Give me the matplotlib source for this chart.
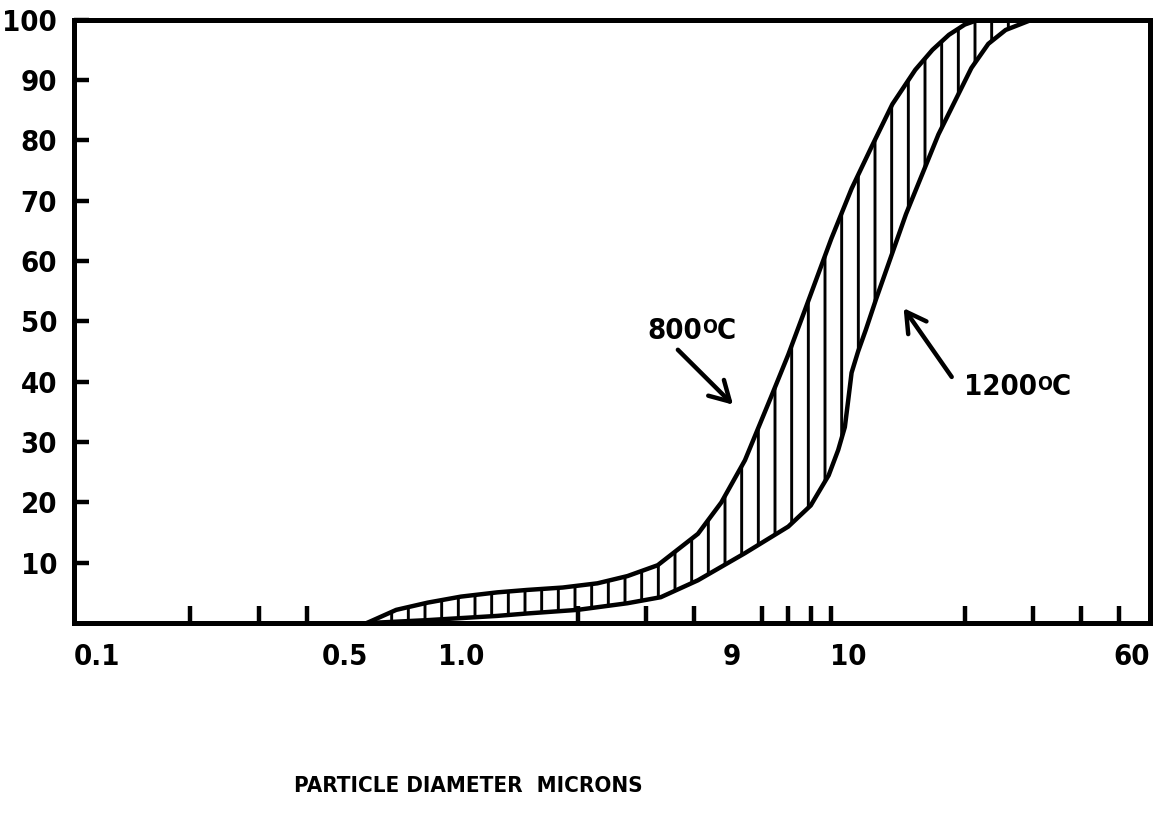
import matplotlib
matplotlib.use("Agg")
import matplotlib.pyplot as plt
from matplotlib import font_manager as fm
from matplotlib.ticker import FixedLocator, NullFormatter
import numpy as np

# particle diameter (microns) vs cumulative percent
d800 = [0.57, 0.68, 0.82, 1.0, 1.24, 1.48, 1.83, 2.25, 2.69, 3.22, 4.09,
        4.7, 5.41, 6.32, 7.0, 7.74, 9.04, 10.2, 11.5, 13.0, 14.9, 16.5, 18.2, 20.0, 21.7]
p800 = [0, 2.2, 3.4, 4.4, 5.1, 5.5, 5.9, 6.6, 7.8, 9.6, 14.8,
        20.0, 27.0, 37.5, 44.5, 52.0, 63.7, 72.0, 79.0, 86.0, 91.7, 95.0, 97.5, 99.2, 100]

d1200 = [0.57, 0.82, 1.24, 1.48, 2.0, 2.69, 3.28, 4.09, 5.41, 7.0, 8.0, 8.9,
         9.42, 9.8, 10.0, 10.2, 10.6, 11.1, 11.8, 14.1, 17.1, 20.8, 23.0, 25.5, 29.8]
p1200 = [0, 0.5, 1.2, 1.6, 2.2, 3.3, 4.3, 7.1, 11.6, 16.0, 19.5, 24.5,
         28.7, 32.5, 37.0, 41.5, 45.0, 48.6, 53.7, 67.8, 81.0, 92.0, 96.0, 98.3, 100]

yticks = [10, 20, 30, 40, 50, 60, 70, 80, 90, 100]
xlabel_pos = [0.1, 0.5, 1.0, 5, 10, 60]
xlabel_txt = ["0.1", "0.5", "1.0", "9", "10", "60"]
xmarks = [0.2, 0.3, 0.4, 0.5, 2, 3, 4, 5, 6, 7, 8, 9, 10, 20, 30, 40, 50]


def narrow_font():
    # look for a condensed / narrow face, the scan uses a narrow lettering
    rank = {"extra-condensed": 0, "ultra-condensed": 1, "condensed": 1, "semi-condensed": 2}
    best = None
    for f in fm.fontManager.ttflist:
        st = f.stretch if isinstance(f.stretch, str) else ""
        if "Narrow" in f.name:
            st = "condensed"
        if "Condensed" in f.name and st not in rank:
            st = "condensed"
        if st not in rank or f.style != "normal":
            continue
        w = f.weight if isinstance(f.weight, int) else fm.weight_dict.get(f.weight, 400)
        key = (rank[st], abs(w - 650))
        if best is None or key < best[0]:
            best = (key, f.fname)
    if best:
        return best[1]
    return fm.findfont(fm.FontProperties(family="Liberation Sans", weight="bold"))


fname = narrow_font()


def fp(size):
    return fm.FontProperties(fname=fname, size=size)


plt.rcParams["hatch.linewidth"] = 2.1

fig = plt.figure(figsize=(11.73, 8.21), dpi=100)
ax = fig.add_axes([0.063, 0.241, 0.917, 0.735])

ax.set_xscale("log")
ax.set_xlim(0.1, 60)
ax.set_ylim(0, 100)

# hatched band between the two curves
ax.fill(np.concatenate([d800, d1200[::-1]]), np.concatenate([p800, p1200[::-1]]),
        fill=False, hatch="|", edgecolor="black", linewidth=0)
ax.plot(d800, p800, color="black", lw=3.2, solid_capstyle="round", solid_joinstyle="round")
ax.plot(d1200, p1200, color="black", lw=3.2, solid_capstyle="round", solid_joinstyle="round")

for s in ax.spines.values():
    s.set_linewidth(3.6)

ax.yaxis.set_major_locator(FixedLocator(yticks))
ax.set_yticklabels([str(v) for v in yticks])
ax.tick_params(axis="y", direction="in", length=11, width=3.2, pad=12)
for t in ax.get_yticklabels():
    t.set_fontproperties(fp(21))

ax.xaxis.set_major_locator(FixedLocator(xlabel_pos))
ax.xaxis.set_minor_locator(FixedLocator(xmarks))
ax.xaxis.set_minor_formatter(NullFormatter())
lbls = ax.set_xticklabels(xlabel_txt)
for t in lbls:
    t.set_fontproperties(fp(21))
lbls[0].set_ha("left")
lbls[-1].set_ha("right")
ax.tick_params(axis="x", which="major", length=0, pad=14)
ax.tick_params(axis="x", which="minor", direction="in", length=12, width=3.2)
for t in ax.xaxis.get_minor_ticks():
    if t.get_loc() == 10:
        t.tick1line.set_markersize(17)


def temp_label(x, y, num):
    # number, raised "O", then "C" on the same baseline
    t = ax.text(x, y, num, fontproperties=fp(21), ha="left", va="center")
    o = ax.annotate("O", xy=(1.0, 0.95), xycoords=t, ha="left", va="top",
                    fontproperties=fp(14))
    ax.annotate("C", xy=(1.0, 0), xycoords=(o, t), ha="left", va="bottom",
                fontproperties=fp(21))


temp_label(3.03, 48.4, "800")
temp_label(19.9, 39.1, "1200")

arr = dict(arrowstyle="->,head_length=0.7,head_width=0.4", lw=3.2, color="black",
           mutation_scale=20, shrinkA=0, shrinkB=0)
ax.annotate("", xy=(5.04, 36.2), xytext=(3.63, 45.3), arrowprops=arr)
ax.annotate("", xy=(13.9, 52.2), xytext=(18.5, 40.8), arrowprops=arr)

fig.text(468 / 1173, 1 - 786 / 821, "PARTICLE DIAMETER  MICRONS",
         fontproperties=fp(16), ha="center", va="center")

fig.savefig("out.png", dpi=100)
